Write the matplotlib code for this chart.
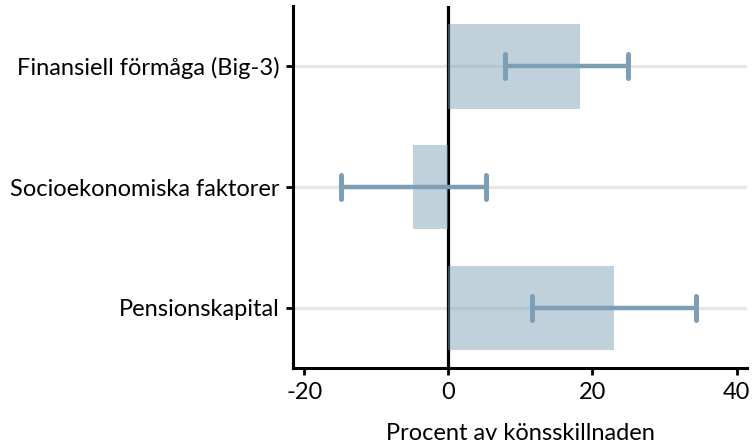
import matplotlib.pyplot as plt
from matplotlib.markers import MarkerStyle

# Faktorer och skattningar (procent av könsskillnaden)
factors = ['Pensionskapital', 'Socioekonomiska faktorer', 'Finansiell förmåga (Big-3)']
estimates = [23.0, -4.9, 18.3]
ci_low = [11.6, -14.9, 7.9]
ci_high = [34.4, 5.2, 24.9]

base_color = '#7c9fb6'

plt.rcParams['font.family'] = ['Lato', 'DejaVu Sans']

fig = plt.figure(figsize=(7.55, 4.48), dpi=100)
ax = fig.add_axes([0.3885, 0.1779, 0.6005, 0.8087])

ypos = list(range(len(factors)))

# nollinje under staplarna
ax.axvline(0, color='black', lw=2.3, zorder=1)

ax.barh(ypos, estimates, height=0.7, color=base_color, alpha=0.47, zorder=2)

err_lo = [e - l for e, l in zip(estimates, ci_low)]
err_hi = [h - e for e, h in zip(estimates, ci_high)]
_, caps, _ = ax.errorbar(estimates, ypos, xerr=[err_lo, err_hi], fmt='none',
                         ecolor=base_color, elinewidth=3.2, capsize=8.5,
                         capthick=3.6, zorder=3)
for c in caps:
    c.set_marker(MarkerStyle('|', capstyle='round'))

ax.set_yticks(ypos)
ax.set_yticklabels(factors, fontsize=17)
ax.set_xticks([-20, 0, 20, 40])
ax.set_xticklabels(['-20', '0', '20', '40'], fontsize=17)
ax.set_xlim(-21.5, 41.4)
ax.set_ylim(-0.5, 2.5)

ax.grid(axis='y', color='#e6e6e6', lw=2.3, zorder=0)
ax.set_axisbelow(True)

for s in ['top', 'right']:
    ax.spines[s].set_visible(False)
for s in ['left', 'bottom']:
    ax.spines[s].set_linewidth(2.2)
ax.tick_params(axis='both', width=2, length=5, pad=5)

ax.set_xlabel('Procent av könsskillnaden', fontsize=17, labelpad=14)

fig.savefig('out.png', dpi=100)
